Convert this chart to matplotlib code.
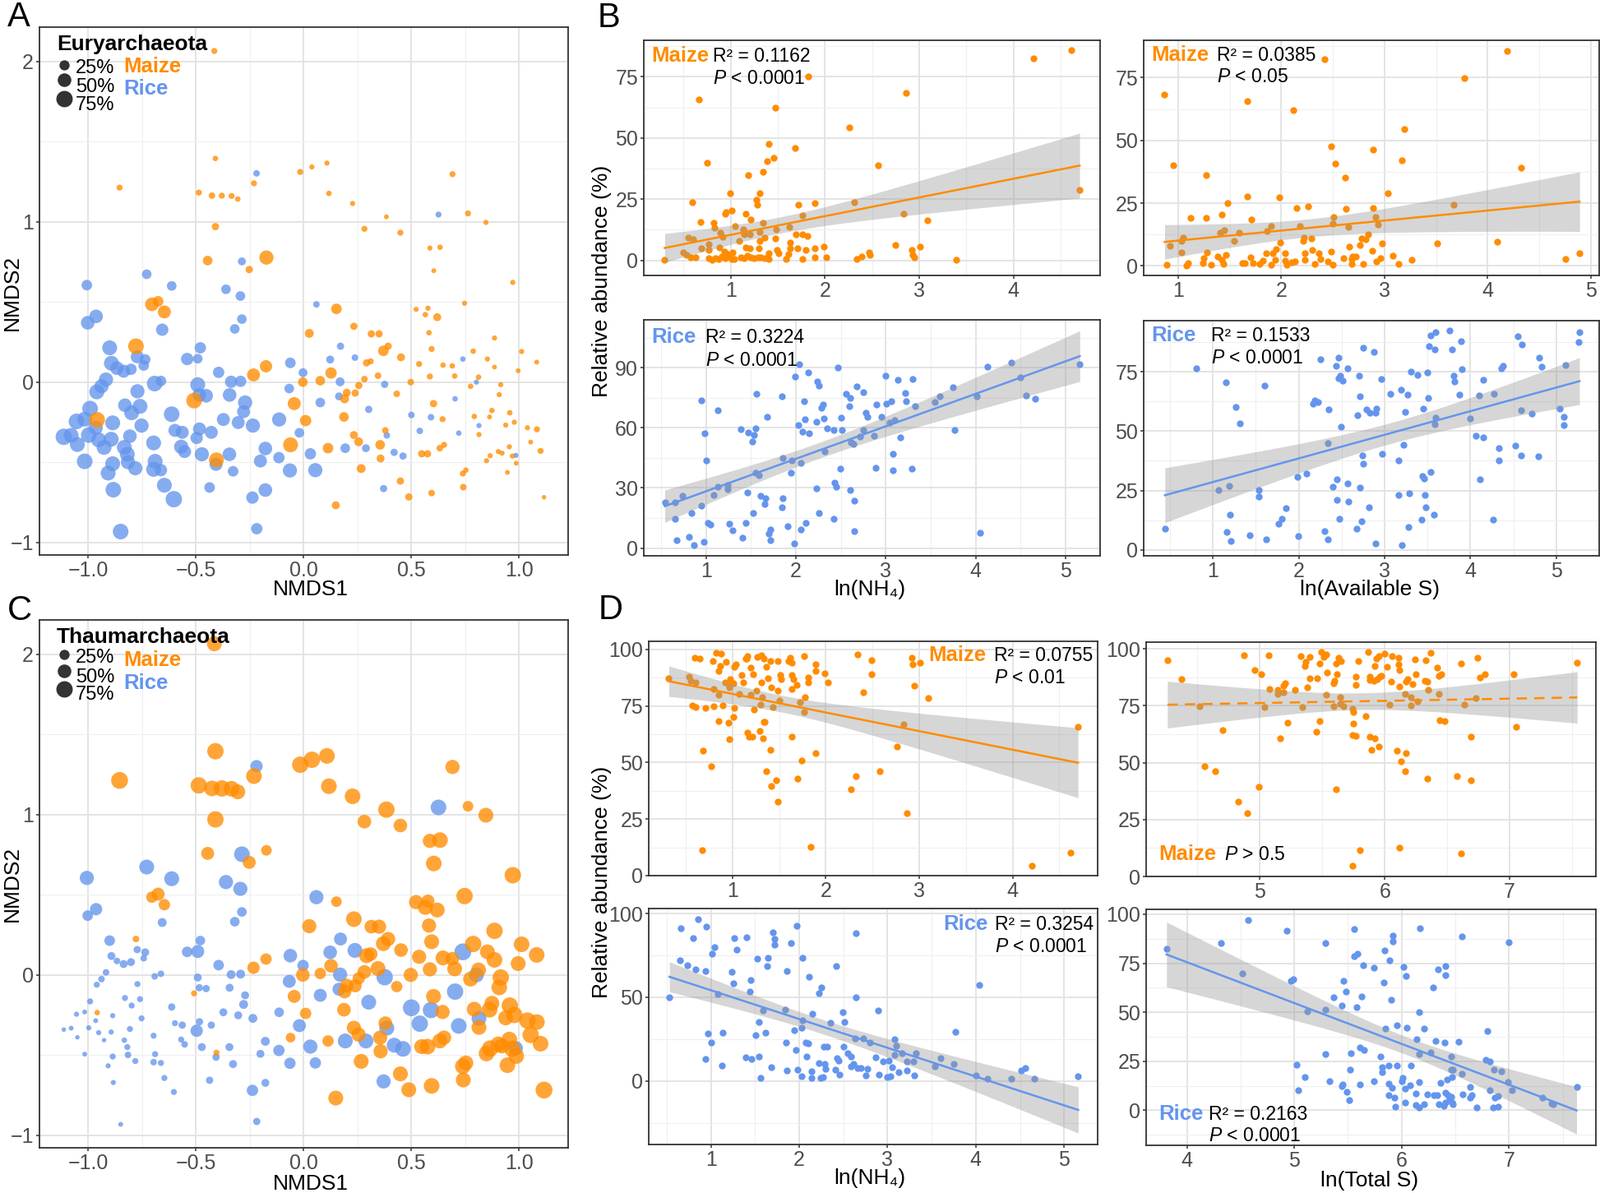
"""
Archaeal community NMDS (A, C) and regressions of relative abundance
against soil NH4 / sulfur (B, D) for maize and rice fields.
"""

import numpy as np
import matplotlib
matplotlib.use('Agg')
from matplotlib import pyplot as plt
from matplotlib.ticker import AutoMinorLocator

plt.rcParams['font.family'] = ['Liberation Sans', 'DejaVu Sans']
plt.rcParams['mathtext.fontset'] = 'custom'
plt.rcParams['mathtext.it'] = 'Liberation Sans:italic'
plt.rcParams['mathtext.rm'] = 'Liberation Sans'

ORANGE = '#FF8C00'
BLUE = '#6495ED'

# ---------------- data ----------------
# NMDS samples: (NMDS1, NMDS2, Euryarchaeota %, Thaumarchaeota %)
maize_nmds = [
    (-0.414, 2.065, 5, 61), (-0.854, 1.213, 5, 80), (-0.409, 1.395, 3, 75), (-0.486, 1.182, 5, 75),
    (-0.425, 1.163, 7, 68), (-0.379, 1.163, 5, 75), (-0.334, 1.161, 5, 68), (-0.305, 1.142, 3, 61),
    (-0.409, 0.970, 10, 75), (-0.230, 1.240, 5, 68), (-0.015, 1.311, 5, 75), (0.039, 1.342, 2, 75),
    (0.109, 1.366, 2, 68), (0.118, 1.177, 3, 68), (0.228, 1.114, 2, 68), (0.283, 0.956, 5, 50),
    (0.385, 1.031, 1, 75), (0.450, 0.932, 5, 50), (0.692, 1.297, 5, 55), (0.764, 1.052, 5, 28),
    (0.847, 0.996, 2, 61), (0.587, 0.836, 2, 55), (0.634, 0.841, 3, 68), (0.605, 0.695, 1, 68),
    (0.972, 0.622, 2, 75), (-0.445, 0.758, 22, 45), (-0.172, 0.777, 55, 28), (-0.252, 0.702, 10, 45),
    (-0.704, 0.485, 50, 33), (-0.675, 0.504, 28, 45), (-0.646, 0.438, 45, 33), (-0.778, 0.224, 68, 7),
    (0.153, 0.457, 28, 28), (0.234, 0.348, 10, 68), (0.027, 0.304, 18, 55), (0.315, 0.301, 10, 50),
    (0.351, 0.301, 10, 55), (0.371, 0.195, 28, 61), (0.393, 0.224, 10, 55), (0.453, 0.155, 13, 50),
    (0.293, 0.120, 10, 61), (0.312, 0.130, 5, 50), (0.523, 0.454, 2, 55), (0.578, 0.461, 2, 45),
    (0.566, 0.421, 3, 61), (0.621, 0.405, 13, 61), (0.583, 0.308, 3, 55), (0.595, 0.207, 5, 61),
    (0.748, 0.492, 2, 75), (0.887, 0.275, 2, 75), (0.788, 0.193, 3, 75), (0.854, 0.144, 2, 61),
    (0.887, 0.094, 1, 68), (1.013, 0.191, 2, 68), (1.083, 0.125, 1, 68), (0.997, 0.071, 1, 61),
    (0.537, 0.113, 5, 55), (0.648, 0.106, 3, 61), (0.691, 0.101, 3, 50), (0.587, 0.035, 5, 55),
    (0.702, 0.038, 3, 61), (0.813, 0.031, 3, 61), (0.776, -0.026, 3, 61), (0.916, -0.016, 2, 75),
    (0.909, -0.078, 2, 68), (-0.174, 0.099, 40, 33), (-0.232, 0.045, 45, 40), (0.078, 0.009, 22, 33),
    (0.128, 0.057, 33, 50), (-0.003, 0.000, 22, 50), (0.346, 0.040, 7, 61), (0.283, 0.019, 7, 50),
    (0.257, -0.021, 10, 40), (0.201, -0.066, 13, 50), (0.240, -0.068, 10, 45), (0.191, -0.104, 18, 50),
    (0.498, 0.000, 7, 55), (0.433, -0.073, 7, 33), (0.604, -0.134, 10, 61), (0.646, -0.231, 5, 55),
    (0.380, -0.301, 7, 50), (0.234, -0.330, 13, 55), (0.256, -0.372, 18, 55), (0.188, -0.217, 22, 50),
    (0.010, -0.240, 33, 33), (-0.043, -0.134, 45, 45), (-0.508, -0.115, 68, 5), (-0.958, -0.235, 68, 3),
    (-0.404, -0.485, 61, 5), (-0.060, -0.391, 61, 22), (0.114, -0.412, 28, 33), (0.356, -0.391, 22, 55),
    (0.358, -0.476, 13, 55), (0.268, -0.539, 18, 61), (0.549, -0.447, 10, 61), (0.576, -0.447, 10, 68),
    (0.633, -0.412, 7, 61), (0.653, -0.391, 5, 55), (0.450, -0.617, 10, 61), (0.489, -0.716, 10, 61),
    (0.595, -0.692, 7, 68), (0.150, -0.768, 13, 61), (0.740, -0.570, 5, 68), (0.754, -0.549, 3, 61),
    (0.742, -0.655, 7, 61), (0.793, -0.214, 3, 61), (0.864, -0.217, 1, 68), (0.875, -0.177, 3, 61),
    (0.958, -0.191, 3, 75), (0.939, -0.268, 2, 61), (0.979, -0.250, 2, 75), (1.040, -0.285, 2, 75),
    (1.084, -0.294, 5, 68), (0.815, -0.327, 2, 61), (1.055, -0.374, 1, 75), (1.101, -0.429, 5, 68),
    (0.905, -0.433, 2, 68), (0.922, -0.443, 2, 61), (0.956, -0.403, 2, 68), (0.970, -0.461, 2, 75),
    (0.867, -0.459, 2, 75), (0.850, -0.490, 2, 68), (0.988, -0.506, 1, 68), (0.947, -0.563, 1, 68),
    (1.117, -0.718, 0, 80),
]

rice_nmds = [
    (-1.006, 0.605, 28, 55), (-0.728, 0.673, 22, 61), (-0.612, 0.600, 22, 61), (-0.963, 0.410, 50, 40),
    (-1.002, 0.370, 50, 28), (-0.656, 0.327, 40, 18), (-0.900, 0.214, 61, 28), (-0.892, 0.118, 61, 13),
    (-0.866, 0.087, 50, 7), (-0.835, 0.068, 45, 13), (-0.801, 0.080, 33, 13), (-0.772, 0.158, 45, 10),
    (-0.742, 0.104, 28, 7), (-0.735, 0.141, 28, 13), (-0.917, 0.016, 55, 7), (-0.938, -0.026, 55, 7),
    (-0.960, -0.061, 61, 5), (-0.771, -0.057, 55, 5), (-0.691, -0.009, 68, 7), (-0.662, 0.007, 28, 7),
    (-0.991, -0.165, 68, 5), (-1.054, -0.245, 68, 2), (-1.016, -0.231, 61, 1), (-1.113, -0.341, 75, 0),
    (-1.079, -0.332, 61, 1), (-1.050, -0.389, 61, 0), (-0.997, -0.330, 68, 2), (-0.965, -0.285, 55, 1),
    (-0.951, -0.360, 61, 2), (-0.926, -0.407, 61, 0), (-0.893, -0.356, 61, 2), (-0.886, -0.254, 61, 2),
    (-1.016, -0.494, 68, 1), (-0.907, -0.567, 61, 2), (-0.886, -0.509, 61, 5), (-0.883, -0.671, 68, 2),
    (-0.829, -0.144, 50, 5), (-0.798, -0.191, 61, 5), (-0.759, -0.151, 61, 5), (-0.752, -0.271, 55, 5),
    (-0.806, -0.337, 50, 5), (-0.832, -0.407, 61, 3), (-0.818, -0.450, 61, 5), (-0.815, -0.499, 55, 7),
    (-0.781, -0.537, 55, 5), (-0.696, -0.379, 61, 5), (-0.689, -0.494, 61, 5), (-0.696, -0.544, 61, 7),
    (-0.662, -0.549, 40, 5), (-0.646, -0.643, 61, 5), (-0.602, -0.730, 75, 5), (-0.849, -0.932, 68, 1),
    (-0.612, -0.200, 68, 10), (-0.597, -0.301, 45, 5), (-0.563, -0.313, 45, 10), (-0.568, -0.403, 55, 5),
    (-0.552, -0.433, 45, 7), (-0.540, 0.144, 40, 28), (-0.491, 0.146, 22, 45), (-0.479, 0.214, 33, 22),
    (-0.491, -0.016, 61, 13), (-0.484, -0.080, 50, 10), (-0.452, -0.085, 50, 10), (-0.496, -0.348, 40, 40),
    (-0.483, -0.292, 45, 10), (-0.472, -0.450, 55, 13), (-0.428, -0.313, 45, 10), (-0.406, -0.513, 45, 10),
    (-0.436, -0.657, 28, 10), (-0.394, 0.061, 33, 28), (-0.360, 0.579, 22, 55), (-0.336, 0.002, 40, 18),
    (-0.343, -0.080, 50, 13), (-0.293, 0.537, 22, 55), (-0.286, 0.393, 22, 22), (-0.319, 0.332, 22, 22),
    (-0.292, 0.005, 33, 18), (-0.271, -0.127, 55, 13), (-0.278, -0.184, 45, 18), (-0.372, -0.233, 45, 13),
    (-0.303, -0.252, 45, 13), (-0.235, -0.271, 55, 18), (-0.344, -0.450, 50, 13), (-0.327, -0.556, 28, 13),
    (-0.237, -0.720, 40, 33), (-0.217, -0.914, 33, 10), (-0.286, 0.753, 13, 68), (-0.218, 1.302, 7, 40),
    (-0.177, -0.414, 50, 18), (-0.177, -0.673, 50, 13), (-0.200, -0.492, 45, 13), (-0.113, -0.233, 55, 22),
    (-0.114, -0.471, 33, 33), (-0.061, 0.120, 28, 50), (-0.066, -0.040, 22, 45), (-0.063, -0.551, 55, 33),
    (-0.019, -0.316, 22, 45), (-0.002, 0.059, 18, 33), (0.032, -0.447, 33, 55), (0.055, -0.549, 55, 33),
    (0.078, -0.127, 22, 45), (0.060, 0.485, 7, 55), (0.124, 0.141, 13, 50), (0.172, 0.224, 10, 45),
    (0.170, 0.002, 18, 55), (0.165, -0.089, 13, 45), (0.194, -0.412, 22, 61), (0.239, 0.153, 7, 61),
    (0.290, -0.412, 13, 61), (0.303, -0.170, 10, 61), (0.377, -0.014, 10, 75), (0.387, -0.332, 7, 61),
    (0.372, -0.664, 10, 55), (0.421, -0.438, 10, 61), (0.462, -0.461, 10, 68), (0.501, -0.205, 7, 80),
    (0.540, -0.304, 7, 75), (0.592, -0.219, 7, 75), (0.627, 1.045, 5, 68), (0.704, -0.104, 3, 75),
    (0.721, -0.318, 3, 68), (0.740, 0.144, 3, 80), (0.803, 0.000, 2, 61), (0.815, -0.271, 2, 61),
    (0.986, -0.457, 2, 55),
]

# B: Euryarchaeota (%) vs ln(NH4) and ln(Available S)
maize_nh4_eury = [
    (0.30, 0.3), (0.66, 65.8), (0.59, 23.6), (0.68, 15.7), (0.75, 40.0), (0.55, 9.4), (0.60, 8.7),
    (0.50, 3.3), (0.53, 2.4), (0.58, 1.4), (0.63, 1.4), (0.69, 4.9), (0.77, 6.5), (0.77, 4.1),
    (0.82, 15.5), (0.83, 13.2), (0.89, 11.3), (0.92, 9.7), (0.88, 5.2), (0.94, 19.2), (0.95, 19.7),
    (0.99, 27.4), (1.01, 20.3), (0.77, 1.0), (0.80, 0.2), (0.84, 1.0), (0.87, 0.5), (0.91, 1.7),
    (0.94, 1.0), (0.98, 1.7), (1.01, 0.5), (1.04, 0.5), (0.93, 3.6), (0.97, 2.5), (1.02, 3.3),
    (1.05, 14.1), (1.09, 8.1), (1.13, 12.5), (1.16, 19.0), (1.14, 10.5), (1.11, 1.4), (1.14, 1.0),
    (1.18, 2.0), (1.21, 1.4), (1.25, 1.0), (1.29, 1.4), (1.32, 1.1), (1.36, 1.0), (1.40, 0.5),
    (1.19, 34.7), (1.21, 16.8), (1.20, 10.5), (1.16, 5.4), (1.20, 4.9), (1.27, 24.7), (1.28, 22.8),
    (1.31, 27.4), (1.34, 15.2), (1.31, 11.6), (1.31, 8.1), (1.30, 4.9), (1.34, 36.2), (1.39, 40.6),
    (1.40, 47.6), (1.46, 41.9), (1.47, 62.2), (1.36, 9.4), (1.40, 3.0), (1.47, 8.9), (1.48, 12.8),
    (1.49, 4.1), (1.51, 3.0), (1.59, 0.5), (1.61, 2.5), (1.62, 13.6), (1.63, 7.3), (1.63, 4.9),
    (1.68, 46.0), (1.69, 10.5), (1.71, 4.9), (1.72, 22.8), (1.76, 18.2), (1.76, 10.5), (1.76, 0.5),
    (1.80, 4.1), (1.81, 10.0), (1.82, 75.0), (1.89, 23.5), (1.89, 4.9), (1.89, 1.3), (1.99, 5.5),
    (2.01, 1.3), (2.26, 54.4), (2.31, 23.9), (2.34, 0.5), (2.39, 1.6), (2.47, 3.2), (2.48, 2.2),
    (2.56, 39.0), (2.75, 6.3), (2.83, 19.2), (2.86, 68.3), (2.92, 4.4), (2.93, 2.2), (2.95, 1.4),
    (3.01, 5.5), (3.09, 16.2), (3.39, 0.2), (4.21, 82.4), (4.61, 85.8), (4.70, 28.7),
]

rice_nh4_eury = [
    (0.54, 22.7), (0.65, 22.7), (0.65, 14.5), (0.67, 3.9), (0.74, 26.0), (0.81, 5.6), (0.84, 17.5),
    (0.86, 1.4), (0.95, 73.7), (0.95, 21.1), (0.97, 3.1), (0.98, 57.2), (1.00, 43.8), (1.02, 12.6),
    (1.05, 11.6), (1.08, 26.4), (1.13, 69.0), (1.13, 30.6), (1.24, 31.4), (1.24, 29.5), (1.26, 12.0),
    (1.29, 8.7), (1.40, 5.2), (1.39, 59.3), (1.44, 12.6), (1.46, 27.9), (1.47, 57.6), (1.52, 17.5),
    (1.51, 53.3), (1.53, 56.6), (1.55, 59.7), (1.56, 77.0), (1.55, 37.6), (1.59, 36.3), (1.61, 26.0),
    (1.66, 24.8), (1.65, 22.1), (1.68, 65.7), (1.70, 7.2), (1.72, 9.1), (1.72, 3.9), (1.84, 76.0),
    (1.84, 20.2), (1.85, 45.0), (1.85, 24.8), (1.91, 10.7), (1.94, 37.6), (1.95, 43.8), (1.98, 2.1),
    (1.99, 85.7), (2.03, 61.5), (2.04, 91.9), (2.05, 42.5), (2.05, 9.1), (2.07, 58.2), (2.09, 73.3),
    (2.10, 64.4), (2.11, 12.4), (2.14, 87.7), (2.15, 57.4), (2.23, 63.2), (2.23, 29.9), (2.24, 83.0),
    (2.26, 81.3), (2.26, 17.5), (2.28, 70.2), (2.30, 71.8), (2.31, 64.8), (2.32, 48.3), (2.35, 59.7),
    (2.42, 59.0), (2.42, 14.4), (2.43, 32.6), (2.45, 30.6), (2.47, 90.0), (2.49, 39.6), (2.50, 65.2),
    (2.51, 59.0), (2.56, 77.0), (2.59, 71.0), (2.60, 74.9), (2.60, 29.1), (2.61, 52.8), (2.64, 52.0),
    (2.65, 23.7), (2.65, 8.5), (2.68, 80.9), (2.71, 55.5), (2.75, 59.0), (2.75, 78.0), (2.78, 67.7),
    (2.80, 65.4), (2.87, 56.0), (2.89, 40.1), (2.90, 71.8), (2.95, 65.7), (3.00, 86.1), (3.01, 72.1),
    (3.04, 62.5), (3.06, 73.5), (3.08, 46.9), (3.08, 39.0), (3.10, 63.8), (3.13, 84.2), (3.16, 55.1),
    (3.22, 77.6), (3.23, 73.3), (3.29, 39.6), (3.30, 84.6), (3.33, 71.0), (3.55, 73.1), (3.60, 76.0),
    (3.75, 80.3), (3.77, 59.0), (4.01, 76.0), (4.05, 7.6), (4.13, 90.4), (4.40, 92.5), (4.50, 85.3),
    (4.56, 76.4), (4.66, 74.7), (5.16, 91.9),
]

maize_avs_eury = [
    (0.87, 68.3), (0.89, 0.3), (0.92, 8.0), (0.95, 40.2), (1.03, 5.3), (1.03, 10.0), (1.05, 11.3),
    (1.08, 0.2), (1.10, 1.2), (1.12, 19.2), (1.24, 1.1), (1.25, 3.1), (1.27, 36.2), (1.27, 19.2),
    (1.28, 5.4), (1.32, 0.6), (1.38, 3.6), (1.41, 13.1), (1.42, 20.4), (1.42, 2.3), (1.45, 14.2),
    (1.44, 0.8), (1.46, 4.5), (1.48, 25.0), (1.54, 10.0), (1.59, 13.1), (1.62, 1.2), (1.65, 1.2),
    (1.67, 65.7), (1.67, 27.5), (1.70, 3.4), (1.71, 18.4), (1.73, 1.2), (1.79, 0.8), (1.82, 2.0),
    (1.85, 5.1), (1.86, 13.8), (1.90, 15.9), (1.90, 0.5), (1.92, 5.1), (1.94, 2.3), (1.95, 6.6),
    (1.98, 27.4), (1.99, 9.4), (2.04, 5.1), (2.04, 2.0), (2.05, 0.6), (2.10, 1.5), (2.12, 62.2),
    (2.13, 1.9), (2.15, 23.0), (2.18, 15.9), (2.21, 10.0), (2.22, 11.4), (2.23, 4.9), (2.23, 2.3),
    (2.26, 23.7), (2.29, 10.8), (2.30, 6.3), (2.32, 0.8), (2.36, 4.9), (2.38, 2.8), (2.42, 82.4),
    (2.45, 1.7), (2.48, 47.5), (2.48, 5.7), (2.50, 16.9), (2.51, 19.3), (2.50, 0.3), (2.52, 40.8),
    (2.60, 3.2), (2.62, 35.1), (2.63, 22.7), (2.65, 15.6), (2.66, 7.6), (2.68, 2.6), (2.68, 0.8),
    (2.69, 3.6), (2.72, 3.6), (2.76, 8.2), (2.78, 10.8), (2.79, 0.9), (2.82, 10.5), (2.84, 12.7),
    (2.88, 5.9), (2.89, 23.0), (2.89, 46.2), (2.91, 19.6), (2.92, 1.7), (2.94, 16.5), (2.96, 3.2),
    (2.98, 9.1), (3.03, 28.9), (3.08, 4.2), (3.14, 0.8), (3.17, 42.1), (3.19, 54.4), (3.26, 2.5),
    (3.51, 9.0), (3.67, 24.3), (3.77, 74.7), (4.09, 9.7), (4.19, 85.7), (4.32, 39.0), (4.75, 2.9),
    (4.89, 5.1),
]

rice_avs_eury = [
    (0.44, 9.0), (0.81, 76.3), (1.06, 25.2), (1.15, 70.4), (1.16, 7.7), (1.19, 26.8), (1.20, 14.9),
    (1.21, 3.8), (1.27, 60.0), (1.31, 53.4), (1.43, 6.0), (1.53, 25.3), (1.53, 22.4), (1.60, 69.1),
    (1.62, 4.4), (1.76, 11.1), (1.80, 13.1), (1.85, 17.6), (1.98, 30.9), (1.99, 5.7), (2.09, 32.0),
    (2.17, 61.6), (2.19, 62.9), (2.22, 62.3), (2.25, 80.4), (2.30, 8.0), (2.34, 44.8), (2.34, 4.4),
    (2.35, 59.0), (2.40, 26.5), (2.43, 77.3), (2.44, 29.7), (2.44, 21.2), (2.46, 80.9), (2.46, 72.4),
    (2.47, 13.1), (2.49, 52.0), (2.48, 73.4), (2.51, 71.2), (2.57, 76.5), (2.57, 28.1), (2.58, 20.4),
    (2.67, 9.0), (2.68, 56.7), (2.70, 73.4), (2.71, 64.5), (2.71, 26.3), (2.73, 12.1), (2.75, 85.1),
    (2.75, 36.3), (2.74, 39.9), (2.79, 59.0), (2.82, 17.8), (2.83, 57.7), (2.88, 83.2), (2.89, 57.7),
    (2.90, 59.5), (2.89, 2.8), (2.96, 71.9), (2.97, 40.5), (3.07, 65.8), (3.16, 37.7), (3.16, 23.0),
    (3.19, 67.5), (3.20, 2.0), (3.22, 44.1), (3.24, 58.0), (3.27, 65.5), (3.28, 9.6), (3.29, 23.9),
    (3.31, 75.2), (3.38, 73.7), (3.44, 31.0), (3.45, 59.5), (3.46, 29.9), (3.47, 23.0), (3.43, 12.9),
    (3.48, 17.8), (3.50, 74.7), (3.52, 85.8), (3.51, 63.9), (3.54, 90.2), (3.54, 32.7), (3.57, 14.9),
    (3.58, 84.5), (3.59, 91.5), (3.59, 55.7), (3.58, 52.9), (3.76, 92.3), (3.79, 84.5), (3.80, 73.4),
    (3.81, 70.9), (3.87, 65.4), (3.89, 87.7), (3.90, 76.1), (4.00, 55.2), (4.06, 48.2), (4.10, 64.9),
    (4.11, 29.6), (4.15, 71.7), (4.15, 47.2), (4.26, 12.6), (4.27, 65.8), (4.33, 42.8), (4.33, 37.7),
    (4.36, 76.3), (4.38, 77.6), (4.52, 44.0), (4.55, 89.9), (4.59, 58.7), (4.59, 39.9), (4.60, 86.3),
    (4.71, 57.4), (4.79, 39.4), (4.80, 81.0), (4.83, 77.0), (5.04, 59.5), (5.09, 56.0), (5.09, 52.6),
    (5.11, 77.8), (5.26, 87.4), (5.27, 91.8),
]

# D: Thaumarchaeota (%) vs ln(NH4) and ln(Total S)
maize_nh4_thaum = [
    (0.32, 87.3), (0.54, 88.1), (0.55, 86.3), (0.60, 96.2), (0.61, 85.5), (0.57, 75.2), (0.61, 74.5),
    (0.65, 96.1), (0.69, 55.4), (0.68, 11.3), (0.71, 74.2), (0.77, 48.5), (0.79, 94.9), (0.80, 75.0),
    (0.80, 82.4), (0.83, 98.4), (0.85, 90.5), (0.85, 79.9), (0.85, 68.5), (0.87, 92.6), (0.88, 98.2),
    (0.90, 75.2), (0.92, 85.6), (0.93, 94.6), (0.95, 85.1), (0.96, 67.6), (0.97, 83.3), (0.97, 60.3),
    (0.98, 86.8), (1.01, 70.1), (1.01, 85.0), (1.02, 74.3), (1.02, 92.3), (1.04, 93.3), (1.07, 80.4),
    (1.10, 88.6), (1.12, 85.3), (1.14, 96.1), (1.15, 95.8), (1.16, 96.9), (1.16, 63.2), (1.18, 61.6),
    (1.20, 91.8), (1.20, 79.9), (1.21, 61.3), (1.22, 89.1), (1.23, 73.4), (1.26, 81.9), (1.27, 96.6),
    (1.29, 63.9), (1.30, 75.7), (1.31, 97.4), (1.31, 85.6), (1.32, 78.8), (1.33, 60.6), (1.34, 95.8),
    (1.34, 67.8), (1.35, 68.1), (1.36, 92.3), (1.36, 46.1), (1.38, 87.3), (1.41, 55.6), (1.42, 83.2),
    (1.42, 39.5), (1.43, 74.5), (1.41, 94.9), (1.47, 42.0), (1.49, 94.8), (1.49, 81.9), (1.49, 32.7),
    (1.50, 77.6), (1.51, 88.6), (1.52, 86.9), (1.60, 94.8), (1.64, 61.3), (1.62, 96.4), (1.64, 88.6),
    (1.65, 86.9), (1.64, 82.4), (1.64, 94.0), (1.70, 42.8), (1.69, 84.3), (1.72, 76.6), (1.74, 50.8),
    (1.77, 96.9), (1.77, 72.2), (1.78, 78.8), (1.81, 87.7), (1.81, 85.3), (1.84, 12.7), (1.89, 54.1),
    (1.89, 93.3), (1.89, 90.5), (1.99, 89.5), (2.02, 85.6), (2.27, 38.2), (2.32, 44.1), (2.34, 97.9),
    (2.40, 81.0), (2.49, 95.1), (2.49, 88.9), (2.58, 46.2), (2.76, 57.0), (2.83, 67.0), (2.87, 27.8),
    (2.92, 96.4), (2.93, 93.5), (2.95, 84.0), (3.01, 94.0), (3.10, 78.6), (4.21, 4.4), (4.62, 10.0),
    (4.70, 65.7),
]

rice_nh4_thaum = [
    (0.53, 49.9), (0.65, 71.9), (0.66, 91.3), (0.73, 69.3), (0.80, 85.1), (0.83, 66.6), (0.85, 96.7),
    (0.94, 13.1), (0.94, 65.7), (0.95, 92.2), (0.97, 28.3), (1.00, 22.9), (1.01, 76.2), (1.04, 80.0),
    (1.08, 51.7), (1.12, 9.1), (1.13, 28.7), (1.24, 65.0), (1.25, 58.1), (1.26, 85.3), (1.29, 78.2),
    (1.39, 14.3), (1.40, 85.7), (1.44, 53.2), (1.45, 60.1), (1.46, 13.1), (1.51, 27.2), (1.52, 72.8),
    (1.54, 14.7), (1.54, 35.0), (1.56, 1.6), (1.59, 41.9), (1.62, 29.0), (1.64, 68.4), (1.65, 73.5),
    (1.68, 8.2), (1.70, 88.9), (1.72, 84.6), (1.72, 81.3), (1.84, 42.8), (1.85, 22.7), (1.86, 65.9),
    (1.86, 6.2), (1.91, 82.2), (1.94, 30.5), (1.96, 18.7), (1.97, 92.7), (1.98, 6.5), (2.03, 31.8),
    (2.03, 2.7), (2.04, 73.5), (2.04, 36.3), (2.07, 22.7), (2.08, 14.7), (2.10, 22.3), (2.11, 62.4),
    (2.14, 5.6), (2.14, 2.0), (2.15, 39.9), (2.22, 10.5), (2.22, 52.3), (2.24, 1.8), (2.25, 55.9),
    (2.27, 2.4), (2.28, 20.7), (2.29, 10.0), (2.30, 7.1), (2.32, 20.7), (2.35, 34.7), (2.41, 6.9),
    (2.42, 68.4), (2.43, 13.4), (2.45, 12.2), (2.46, 3.6), (2.49, 41.2), (2.50, 20.5), (2.51, 35.0),
    (2.55, 16.7), (2.59, 14.7), (2.59, 8.7), (2.61, 10.0), (2.63, 25.4), (2.64, 49.7), (2.64, 88.4),
    (2.66, 7.6), (2.70, 7.6), (2.73, 25.6), (2.75, 3.3), (2.77, 7.3), (2.80, 22.9), (2.87, 14.0),
    (2.89, 41.9), (2.90, 3.8), (2.95, 11.4), (3.00, 2.4), (3.01, 12.0), (3.03, 2.9), (3.05, 8.0),
    (3.08, 15.4), (3.08, 24.9), (3.10, 20.9), (3.13, 5.3), (3.16, 16.5), (3.22, 11.6), (3.22, 6.0),
    (3.29, 11.6), (3.30, 3.3), (3.32, 16.5), (3.54, 8.7), (3.60, 13.6), (3.75, 10.0), (3.77, 29.2),
    (4.00, 3.3), (4.04, 57.2), (4.13, 1.3), (4.40, 1.3), (4.51, 6.0), (4.56, 7.6), (4.66, 1.3),
    (5.16, 2.7),
]

maize_ts_thaum = [
    (4.26, 94.8), (4.37, 86.6), (4.52, 74.7), (4.56, 48.4), (4.64, 46.1), (4.70, 64.1), (4.83, 32.7),
    (4.87, 97.1), (4.90, 27.8), (4.96, 90.7), (4.99, 39.5), (5.01, 88.7), (5.04, 74.3), (5.07, 97.1),
    (5.08, 82.4), (5.14, 82.0), (5.14, 80.1), (5.16, 60.6), (5.19, 80.9), (5.19, 83.8), (5.20, 85.0),
    (5.22, 67.6), (5.28, 82.0), (5.33, 96.6), (5.34, 74.5), (5.36, 92.6), (5.37, 94.3), (5.38, 83.0),
    (5.40, 96.4), (5.40, 86.9), (5.45, 63.4), (5.46, 87.1), (5.48, 68.3), (5.48, 93.5), (5.49, 98.4),
    (5.51, 96.4), (5.53, 97.4), (5.53, 79.7), (5.54, 89.5), (5.59, 74.8), (5.59, 85.0), (5.60, 86.1),
    (5.61, 38.2), (5.61, 93.5), (5.62, 88.9), (5.63, 95.9), (5.64, 78.8), (5.64, 76.0), (5.65, 94.6),
    (5.67, 74.7), (5.74, 73.5), (5.74, 62.1), (5.74, 4.6), (5.75, 72.2), (5.75, 67.0), (5.77, 61.6),
    (5.77, 87.6), (5.77, 84.2), (5.79, 94.6), (5.80, 11.4), (5.85, 70.4), (5.87, 98.7), (5.88, 61.3),
    (5.88, 86.3), (5.88, 87.9), (5.89, 55.6), (5.91, 85.8), (5.92, 92.6), (5.92, 60.5), (5.93, 95.6),
    (5.94, 86.6), (5.95, 57.0), (5.95, 96.7), (5.96, 87.7), (5.97, 88.2), (6.00, 98.0), (6.02, 92.2),
    (6.04, 75.3), (6.05, 85.5), (6.06, 96.6), (6.10, 55.2), (6.11, 96.2), (6.11, 93.1), (6.12, 83.3),
    (6.12, 12.6), (6.12, 90.5), (6.13, 50.7), (6.16, 80.2), (6.16, 46.1), (6.17, 54.1), (6.17, 85.6),
    (6.18, 86.6), (6.21, 78.8), (6.21, 75.0), (6.22, 84.5), (6.24, 95.4), (6.25, 88.9), (6.26, 76.8),
    (6.32, 86.1), (6.33, 95.1), (6.34, 85.6), (6.34, 42.8), (6.35, 82.0), (6.37, 98.2), (6.42, 91.8),
    (6.43, 88.2), (6.43, 80.2), (6.44, 68.6), (6.45, 88.9), (6.48, 68.1), (6.58, 44.1), (6.61, 93.6),
    (6.61, 10.0), (6.64, 75.3), (6.69, 42.2), (6.69, 61.4), (6.73, 78.4), (6.74, 95.9), (6.76, 87.3),
    (6.80, 88.7), (7.03, 88.9), (7.05, 65.8), (7.54, 93.8),
]

rice_ts_thaum = [
    (3.81, 82.5), (4.32, 85.2), (4.52, 69.6), (4.57, 97.0), (4.93, 91.8), (4.97, 66.2), (4.99, 66.7),
    (5.02, 23.2), (5.04, 10.1), (5.10, 17.1), (5.12, 50.4), (5.29, 51.5), (5.29, 85.2), (5.29, 28.7),
    (5.33, 14.8), (5.37, 57.6), (5.44, 53.4), (5.44, 12.5), (5.45, 13.1), (5.46, 65.8), (5.48, 60.5),
    (5.49, 9.3), (5.51, 5.3), (5.52, 20.9), (5.53, 29.1), (5.56, 92.6), (5.56, 78.5), (5.58, 52.5),
    (5.59, 80.0), (5.61, 13.3), (5.61, 31.9), (5.63, 58.0), (5.64, 73.8), (5.65, 30.6), (5.74, 14.8),
    (5.74, 72.8), (5.80, 27.2), (5.83, 65.2), (5.82, 22.1), (5.82, 19.4), (5.84, 81.7), (5.85, 41.6),
    (5.88, 22.8), (5.88, 13.5), (5.88, 7.6), (5.89, 76.6), (5.90, 56.3), (5.91, 11.6), (5.92, 89.2),
    (5.92, 86.1), (5.93, 6.3), (5.94, 1.9), (5.96, 22.8), (5.96, 43.3), (6.00, 14.8), (6.01, 16.7),
    (6.02, 73.0), (6.03, 11.0), (6.03, 4.0), (6.04, 68.4), (6.05, 42.2), (6.08, 12.9), (6.09, 23.0),
    (6.13, 8.7), (6.13, 2.7), (6.14, 36.3), (6.16, 50.0), (6.16, 28.5), (6.16, 1.5), (6.16, 14.4),
    (6.17, 92.8), (6.21, 3.2), (6.21, 41.6), (6.24, 8.2), (6.27, 29.3), (6.29, 62.7), (6.30, 7.8),
    (6.32, 35.2), (6.33, 7.6), (6.34, 71.9), (6.35, 3.2), (6.36, 14.1), (6.39, 2.1), (6.40, 34.6),
    (6.41, 9.1), (6.41, 73.4), (6.41, 68.8), (6.41, 3.8), (6.42, 15.6), (6.43, 7.8), (6.45, 5.7),
    (6.46, 6.8), (6.46, 20.9), (6.46, 27.6), (6.47, 4.0), (6.47, 16.9), (6.48, 20.9), (6.48, 3.0),
    (6.53, 35.0), (6.56, 18.8), (6.56, 88.6), (6.57, 8.0), (6.64, 11.8), (6.65, 7.6), (6.64, 6.3),
    (6.70, 1.3), (6.78, 25.9), (6.80, 40.3), (6.82, 24.7), (6.82, 10.1), (6.85, 1.5), (6.86, 20.5),
    (6.87, 6.3), (6.90, 1.7), (6.90, 7.2), (6.93, 19.8), (6.99, 14.3), (7.00, 85.7), (7.03, 10.1),
    (7.31, 6.5), (7.40, 3.4), (7.41, 2.9), (7.63, 11.8),
]

nmds_ticks = [-1.0, -0.5, 0.0, 0.5, 1.0]
nmds_tick_labels = ['\u22121.0', '\u22120.5', '0.0', '0.5', '1.0']
nmds2_ticks = [-1, 0, 1, 2]
nmds2_tick_labels = ['\u22121', '0', '1', '2']
legend_levels = [25, 50, 75]

# ---------------- figure ----------------
W, H = 1946, 1451
fig = plt.figure(figsize=(W / 100, H / 100), dpi=100)


def px_axes(l, t, r, b):
    return fig.add_axes([l / W, 1 - b / H, (r - l) / W, (b - t) / H])


def px_text(x, y, s, **kw):
    return fig.text(x / W, 1 - y / H, s, **kw)


def style(ax, xlim, ylim, xticks, yticks, xlabels=None, ylabels=None):
    ax.set_xlim(xlim)
    ax.set_ylim(ylim)
    ax.set_xticks(xticks)
    ax.set_yticks(yticks)
    ax.set_xticklabels(xlabels if xlabels else [f'{t:g}' for t in xticks])
    ax.set_yticklabels(ylabels if ylabels else [f'{t:g}' for t in yticks])
    ax.xaxis.set_minor_locator(AutoMinorLocator(2))
    ax.yaxis.set_minor_locator(AutoMinorLocator(2))
    ax.grid(which='major', color='#E2E2E2', lw=1.3)
    ax.grid(which='minor', color='#EFEFEF', lw=0.8)
    ax.set_axisbelow(True)
    ax.tick_params(which='major', length=3, width=1.1, color='#333333',
                   labelsize=18, labelcolor='#4D4D4D', pad=2)
    ax.tick_params(which='minor', length=0)
    for sp in ax.spines.values():
        sp.set_color('#333333')
        sp.set_linewidth(1.3)


def size_of(v):
    # area grows linearly with relative abundance (ggplot scale_size)
    return 0.5184 * (30 + 4.9 * np.asarray(v, dtype=float))


def nmds_panel(box, col, title, legend_y):
    ax = px_axes(*box)
    for pts, color in ((rice_nmds, BLUE), (maize_nmds, ORANGE)):
        x = [p[0] for p in pts]
        y = [p[1] for p in pts]
        v = [p[col] for p in pts]
        ax.scatter(x, y, s=size_of(v), color=color, alpha=0.78, lw=0, zorder=2)
    style(ax, (-1.226, 1.229), (-1.078, 2.214), nmds_ticks, nmds2_ticks,
          nmds_tick_labels, nmds2_tick_labels)
    # size legend inside the panel
    t0, d0, l0, m0 = legend_y
    px_text(69, t0, title, fontsize=19, fontweight='bold', va='baseline')
    for lev, dy, ly in zip(legend_levels, d0, l0):
        ax.scatter([78 / W], [1 - dy / H], s=size_of(lev), color='#333333',
                   transform=fig.transFigure, clip_on=False, lw=0, zorder=5)
        px_text(92, ly, f'{lev}%', fontsize=17, va='baseline')
    px_text(150, m0[0], 'Maize', fontsize=18.5, fontweight='bold', color=ORANGE, va='baseline')
    px_text(150, m0[1], 'Rice', fontsize=18.5, fontweight='bold', color=BLUE, va='baseline')
    return ax


def fit_panel(box, pts, color, xlim, ylim, xticks, yticks, dashed=False):
    ax = px_axes(*box)
    x = np.array([p[0] for p in pts])
    y = np.array([p[1] for p in pts])
    ax.scatter(x, y, s=36, color=color, lw=0, zorder=2)
    # linear model with 95% confidence band, as geom_smooth(method='lm')
    b, a = np.polyfit(x, y, 1)
    xs = np.linspace(x.min(), x.max(), 100)
    ys = a + b * xs
    n = len(x)
    s = np.sqrt(np.sum((y - (a + b * x)) ** 2) / (n - 2))
    se = s * np.sqrt(1 / n + (xs - x.mean()) ** 2 / np.sum((x - x.mean()) ** 2))
    ax.fill_between(xs, ys - 1.98 * se, ys + 1.98 * se, color='#999999', alpha=0.4, lw=0, zorder=3)
    line, = ax.plot(xs, ys, color=color, lw=1.8, zorder=4)
    if dashed:
        line.set_dashes((5, 3.5))
    style(ax, xlim, ylim, xticks, yticks)
    return ax


def stat_label(x_grp, x_txt, y1, y2, group, color, r2=None, p=''):
    px_text(x_grp, y1, group, fontsize=18.5, fontweight='bold', color=color, va='baseline')
    if r2 is not None:
        px_text(x_txt, y1, f'R\u00b2 = {r2}', fontsize=16.5, va='baseline')
        px_text(x_txt, y2, f'$P$ {p}', fontsize=16.5, va='baseline')
    else:
        px_text(x_txt, y1, f'$P$ {p}', fontsize=16.5, va='baseline')


# A and C: NMDS ordinations
nmds_panel((48, 33, 691, 675), 2, 'Euryarchaeota',
           (61, (79, 97, 120), (89, 112, 134), (88, 115)))
nmds_panel((48, 754, 691, 1396), 3, 'Thaumarchaeota',
           (782, (796, 816, 838), (806, 830, 851), (810, 838)))

# B: Euryarchaeota regressions
fit_panel((783, 49, 1338, 335), maize_nh4_eury, ORANGE,
          (0.079, 4.917), (-6.15, 89.9), [1, 2, 3, 4], [0, 25, 50, 75])
fit_panel((783, 389, 1338, 676), rice_nh4_eury, BLUE,
          (0.306, 5.386), (-3.9, 114), [1, 2, 3, 4, 5], [0, 30, 60, 90])
fit_panel((1391, 49, 1945, 335), maize_avs_eury, ORANGE,
          (0.667, 5.08), (-3.8, 89.9), [1, 2, 3, 4, 5], [0, 25, 50, 75])
fit_panel((1391, 390, 1945, 676), rice_avs_eury, BLUE,
          (0.193, 5.5), (-2.5, 96.5), [1, 2, 3, 4, 5], [0, 25, 50, 75])

# D: Thaumarchaeota regressions
fit_panel((789, 780, 1335, 1065), maize_nh4_thaum, ORANGE,
          (0.105, 4.91), (0, 103.6), [1, 2, 3, 4], [0, 25, 50, 75, 100])
fit_panel((789, 1105, 1335, 1392), rice_nh4_thaum, BLUE,
          (0.295, 5.38), (-38, 103), [1, 2, 3, 4, 5], [0, 50, 100])
fit_panel((1394, 781, 1941, 1066), maize_ts_thaum, ORANGE,
          (4.09, 7.69), (0, 102.9), [5, 6, 7], [0, 25, 50, 75, 100], dashed=True)
fit_panel((1394, 1106, 1941, 1393), rice_ts_thaum, BLUE,
          (3.62, 7.81), (-17.9, 102.5), [4, 5, 6, 7], [0, 25, 50, 75, 100])

# statistics annotations
stat_label(792, 867, 75, 102, 'Maize', ORANGE, '0.1162', '< 0.0001')
stat_label(792, 858, 417, 445, 'Rice', BLUE, '0.3224', '< 0.0001')
stat_label(1400, 1480, 74, 100, 'Maize', ORANGE, '0.0385', '< 0.05')
stat_label(1400, 1473, 415, 442, 'Rice', BLUE, '0.1533', '< 0.0001')
stat_label(1129, 1209, 804, 831, 'Maize', ORANGE, '0.0755', '< 0.01')
stat_label(1147, 1210, 1131, 1158, 'Rice', BLUE, '0.3254', '< 0.0001')
stat_label(1409, 1489, 1046, None, 'Maize', ORANGE, None, '> 0.5')
stat_label(1409, 1470, 1362, 1388, 'Rice', BLUE, '0.2163', '< 0.0001')

# axis titles
title_kw = dict(fontsize=19, ha='center', va='center')
px_text(378, 717, 'NMDS1', **title_kw)
px_text(15, 356, 'NMDS2', rotation=90, **title_kw)
px_text(378, 1440, 'NMDS1', **title_kw)
px_text(15, 1075, 'NMDS2', rotation=90, **title_kw)
px_text(732, 342, 'Relative abundance (%)', rotation=90, **title_kw)
px_text(732, 1073, 'Relative abundance (%)', rotation=90, **title_kw)
px_text(1058, 717, 'ln(NH\u2084)', **title_kw)
px_text(1666, 717, 'ln(Available S)', **title_kw)
px_text(1058, 1433, 'ln(NH\u2084)', **title_kw)
px_text(1666, 1436, 'ln(Total S)', **title_kw)

# panel letters
for letter, x, y in (('A', 9, 32), ('B', 727, 33), ('C', 9, 754), ('D', 728, 753)):
    px_text(x, y, letter, fontsize=30, va='baseline')

fig.savefig('out.png', dpi=100)
